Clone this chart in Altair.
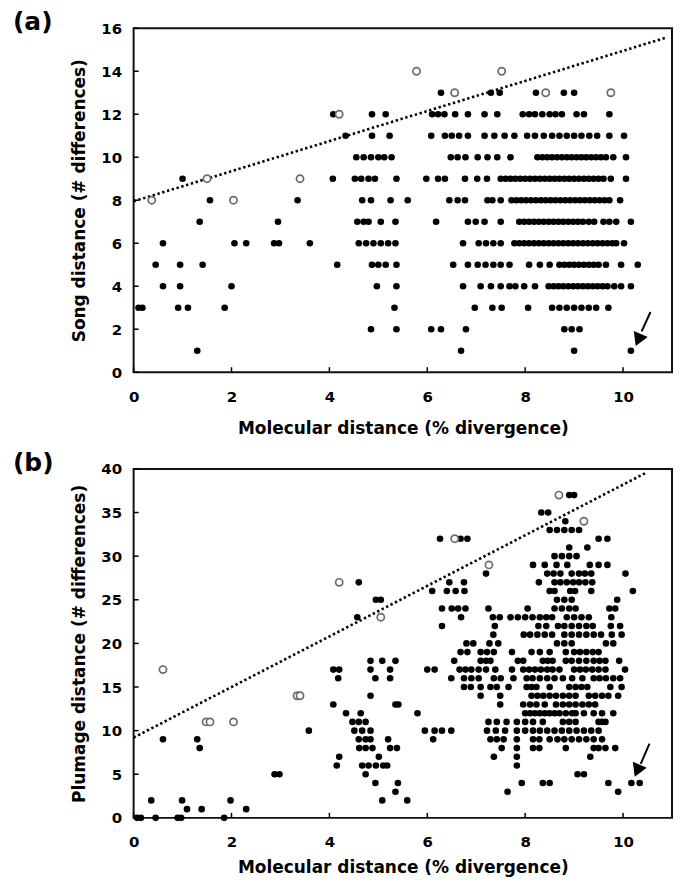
import altair as alt
import pandas as pd

# ---------------- Panel (a): song distance ----------------
a_y13 = [6.28, 7.3, 7.48, 8.22, 8.79, 9.0]
a_y12 = [4.08, 4.87, 5.15, 6.1, 6.22, 6.35, 6.57, 6.83, 7.17, 7.43, 7.95, 8.08, 8.2, 8.35, 8.5, 8.62, 8.75, 9.05, 9.2, 9.72]
a_y11 = [4.33, 4.87, 5.23, 6.08, 6.36, 6.5, 6.65, 6.83, 7.17, 7.37, 7.58, 7.78, 8.04, 8.2, 8.38, 8.55, 8.7, 8.85, 9.0, 9.15, 9.31, 9.47, 9.72, 10.02]
a_y10 = [4.55, 4.7, 4.85, 5.0, 5.12, 5.27, 6.48, 6.62, 6.78, 7.03, 7.23, 7.43, 7.7, 8.25, 8.35, 8.45, 8.55, 8.65, 8.75, 8.85, 8.95, 9.05, 9.15, 9.25, 9.35, 9.45, 9.55, 9.65, 9.8, 10.06]
a_y9 = [1.0, 4.07, 4.52, 4.65, 4.8, 4.93, 5.37, 5.98, 6.22, 6.36, 6.77, 7.02, 7.22, 7.5, 7.6, 7.7, 7.8, 7.9, 8.0, 8.1, 8.2, 8.3, 8.4, 8.5, 8.6, 8.7, 8.8, 8.9, 9.0, 9.1, 9.2, 9.3, 9.4, 9.5, 9.6, 9.75, 10.06]
a_y8 = [1.56, 3.35, 4.67, 4.85, 5.25, 5.6, 6.45, 6.62, 6.77, 7.23, 7.33, 7.5, 7.72, 7.82, 7.92, 8.02, 8.12, 8.22, 8.32, 8.42, 8.52, 8.62, 8.72, 8.82, 8.92, 9.02, 9.12, 9.22, 9.32, 9.42, 9.52, 9.62, 9.72, 9.94]
a_y7 = [1.35, 2.95, 4.57, 4.7, 4.8, 5.05, 5.35, 6.18, 6.83, 6.99, 7.17, 7.5, 7.88, 7.98, 8.08, 8.18, 8.28, 8.38, 8.48, 8.58, 8.68, 8.78, 8.88, 8.98, 9.08, 9.18, 9.3, 9.41, 9.6, 9.72, 9.86, 10.16]
a_y6 = [0.6, 2.06, 2.3, 2.87, 2.97, 3.6, 4.6, 4.75, 4.9, 5.05, 5.2, 5.35, 6.73, 7.05, 7.2, 7.35, 7.5, 7.78, 7.88, 7.98, 8.08, 8.18, 8.28, 8.38, 8.48, 8.58, 8.68, 8.78, 8.88, 8.98, 9.08, 9.18, 9.28, 9.38, 9.48, 9.58, 9.68, 9.78, 9.86, 10.02]
a_y5 = [0.45, 0.95, 1.41, 4.16, 4.87, 5.0, 5.15, 5.37, 6.53, 6.83, 7.03, 7.19, 7.35, 7.5, 7.68, 8.08, 8.3, 8.5, 8.7, 8.8, 8.9, 9.0, 9.1, 9.2, 9.3, 9.4, 9.5, 9.65, 9.96, 10.3]
a_y4 = [0.6, 0.95, 2.0, 4.97, 5.37, 6.73, 7.09, 7.3, 7.5, 7.68, 7.8, 7.98, 8.2, 8.48, 8.58, 8.68, 8.78, 8.88, 8.98, 9.08, 9.18, 9.28, 9.38, 9.48, 9.58, 9.68, 9.82, 9.96, 10.16]
a_y3 = [0.1, 0.18, 0.91, 1.11, 1.86, 5.33, 6.97, 7.33, 7.52, 8.06, 8.55, 8.7, 8.85, 9.0, 9.15, 9.3, 9.45, 9.7]
a_y2 = [4.85, 5.37, 6.08, 6.28, 6.79, 8.8, 8.95, 9.11]
a_y1 = [1.3, 6.69, 9.0, 10.16]

a_open_x = [0.37, 1.5, 2.04, 3.4, 4.2, 5.78, 6.56, 7.52, 8.42, 9.75]
a_open_y = [8, 9, 8, 9, 12, 14, 13, 14, 13, 13]

a_line_x = [0.0, 10.9]
a_line_y = [7.95, 15.58]

a_arrow_x = [10.56, 10.38]
a_arrow_y = [2.8, 1.9]
a_head_x = [10.31]
a_head_y = [1.5]

# ---------------- Panel (b): plumage distance ----------------
b_y37 = [8.9, 9.0]
b_y35 = [8.33, 8.47]
b_y34 = [8.82]
b_y33 = [8.5, 8.65, 8.8, 8.95, 9.1]
b_y32 = [6.26, 6.68, 6.82, 9.5, 9.68]
b_y31 = [8.9, 9.27]
b_y30 = [8.6, 8.75, 8.9, 9.05]
b_y29 = [8.16, 8.4, 8.64, 8.86, 9.32, 9.5, 9.68]
b_y28 = [7.2, 8.45, 8.58, 8.72, 8.95, 9.1, 9.22, 9.35, 10.05]
b_y27 = [4.6, 6.45, 6.75, 8.28, 8.6, 8.72, 8.85, 8.98, 9.1, 9.23, 9.37]
b_y26 = [6.1, 6.4, 6.58, 6.76, 8.5, 8.6, 8.92, 9.02, 9.35, 10.2]
b_y25 = [4.95, 5.05, 8.65, 8.8, 8.95, 9.88]
b_y24 = [6.3, 6.5, 6.63, 6.78, 7.25, 8.05, 8.6, 8.75, 8.9, 9.03, 9.72, 9.84]
b_y23 = [4.57, 6.69, 7.34, 7.48, 7.7, 7.85, 8.0, 8.15, 8.3, 8.43, 8.55, 8.85, 9.0, 9.15, 9.3, 9.76]
b_y22 = [6.3, 7.38, 8.27, 8.43, 8.67, 8.8, 8.95, 9.1, 9.25, 9.38, 9.75, 9.94]
b_y21 = [7.35, 7.97, 8.1, 8.25, 8.4, 8.55, 8.8, 8.95, 9.1, 9.25, 9.4, 9.55, 9.77, 9.97]
b_y20 = [6.8, 6.94, 7.27, 7.45, 8.65, 8.8, 8.95, 9.65, 9.8]
b_y19 = [6.68, 6.82, 7.09, 7.22, 7.36, 7.73, 8.13, 8.3, 8.5, 8.83, 9.0, 9.12, 9.25, 9.38, 9.5]
b_y18 = [4.84, 5.08, 5.35, 6.55, 7.09, 7.2, 7.29, 7.85, 7.96, 8.36, 8.46, 8.56, 8.83, 8.95, 9.1, 9.25, 9.4, 9.52, 9.64, 9.92]
b_y17 = [4.08, 4.2, 4.84, 5.24, 6.0, 6.15, 6.66, 6.78, 6.9, 7.05, 7.2, 7.39, 7.73, 7.96, 8.08, 8.2, 8.32, 8.45, 8.56, 8.7, 9.0, 9.12, 9.24, 9.37, 9.5, 9.64, 10.04]
b_y16 = [4.18, 4.94, 5.24, 6.49, 6.75, 6.9, 7.05, 7.36, 7.5, 7.76, 8.03, 8.15, 8.3, 8.45, 8.6, 8.77, 8.96, 9.17, 9.4, 9.52, 9.65, 9.8, 9.94]
b_y15 = [6.75, 6.89, 7.09, 7.29, 7.42, 7.66, 8.03, 8.13, 8.23, 8.5, 8.9, 9.03, 9.15, 9.27, 9.74, 9.97]
b_y14 = [4.84, 7.09, 7.49, 8.13, 8.25, 8.37, 8.5, 8.63, 8.77, 8.9, 9.03, 9.3, 9.43, 9.57, 9.7, 9.9]
b_y13 = [4.08, 5.35, 5.41, 7.49, 7.96, 8.1, 8.23, 8.4, 8.63, 8.77, 8.9, 9.03, 9.17, 9.3, 9.43]
b_y12 = [4.34, 4.64, 5.8, 8.0, 8.1, 8.2, 8.3, 8.4, 8.5, 8.6, 8.7, 8.83, 8.96, 9.03, 9.2, 9.4, 9.57, 9.8]
b_y11 = [4.47, 4.6, 4.74, 7.25, 7.42, 7.62, 7.83, 8.0, 8.16, 8.36, 8.77, 8.9, 9.03, 9.5, 9.57, 9.64]
b_y10 = [3.58, 4.51, 4.67, 4.84, 5.95, 6.15, 6.3, 6.49, 7.22, 7.4, 7.59, 7.83, 8.0, 8.16, 8.3, 8.45, 8.6, 8.75, 8.9, 9.05, 9.2, 9.35, 9.5]
b_y9 = [0.6, 1.3, 4.6, 4.74, 4.84, 5.2, 6.12, 7.29, 7.42, 7.56, 7.83, 8.16, 8.29, 8.5, 8.66, 8.8, 8.95, 9.1, 9.25, 9.4, 9.57]
b_y8 = [1.35, 4.61, 4.74, 4.88, 5.24, 5.38, 7.52, 7.83, 8.16, 8.29, 8.83, 9.4, 9.5, 9.64, 9.84]
b_y7 = [4.2, 5.01, 7.36, 7.83, 9.33]
b_y6 = [4.15, 4.67, 4.8, 4.95, 5.1, 5.18, 7.83]
b_y5 = [2.88, 2.98, 4.74, 9.07, 9.2]
b_y4 = [4.94, 5.4, 7.93, 8.36, 8.5, 9.7, 10.17, 10.34]
b_y3 = [5.35, 7.64, 9.9]
b_y2 = [0.36, 0.99, 1.98, 5.08, 5.59]
b_y1 = [1.09, 1.39, 2.3]
b_y0 = [0.07, 0.15, 0.45, 0.9, 0.97, 1.85]

b_open_x = [0.6, 1.48, 1.56, 2.04, 3.34, 3.4, 4.2, 5.05, 6.56, 7.26, 8.69, 9.2]
b_open_y = [17, 11, 11, 11, 14, 14, 27, 23, 32, 29, 37, 34]

b_line_x = [0.0, 10.45]
b_line_y = [9.2, 39.5]

b_arrow_x = [10.54, 10.36]
b_arrow_y = [8.5, 6.2]
b_head_x = [10.29]
b_head_y = [5.4]

# ---------------- Axes ----------------
x_ticks = [0, 2, 4, 6, 8, 10]
a_y_ticks = [0, 2, 4, 6, 8, 10, 12, 14, 16]
b_y_ticks = [0, 5, 10, 15, 20, 25, 30, 35, 40]
x_title = "Molecular distance (% divergence)"
a_y_title = "Song distance (# differences)"
b_y_title = "Plumage distance (# differences)"

FONT = "DejaVu Sans"
W = 540


def rows_to_df(rows):
    recs = []
    for yv, xs in rows:
        for xv in xs:
            recs.append({"x": xv, "y": yv})
    return pd.DataFrame(recs)


def panel(rows, ox, oy, lx, ly, arx, ary, hx, hy, ydom, yticks, ytitle, label, height, xtpad):
    filled = rows_to_df(rows)
    opened = pd.DataFrame({"x": ox, "y": oy})
    line = pd.DataFrame({"x": lx, "y": ly})
    arrow = pd.DataFrame({"x": [arx[0]], "y": [ary[0]], "x2": [arx[1]], "y2": [ary[1]]})
    head = pd.DataFrame({"x": hx, "y": hy})

    xs = alt.Scale(domain=[0, 11], nice=False, zero=False)
    ys = alt.Scale(domain=ydom, nice=False, zero=False)
    xax = alt.Axis(values=x_ticks, title=x_title, grid=False, domain=False, ticks=False,
                   tickSize=0, labelPadding=17, titlePadding=xtpad, format="d", labelFlush=False,
                   labelFont=FONT, labelFontSize=15, labelFontWeight="bold", labelColor="black",
                   titleFont=FONT, titleFontSize=17, titleFontWeight="bold", titleColor="black")
    yax = alt.Axis(values=yticks, title=ytitle, grid=False, domain=False, ticks=False,
                   tickSize=0, labelPadding=12, titlePadding=12, format="d", labelFlush=False,
                   labelFont=FONT, labelFontSize=15, labelFontWeight="bold", labelColor="black",
                   titleFont=FONT, titleFontSize=17, titleFontWeight="bold", titleColor="black")
    X = alt.X("x:Q", scale=xs, axis=xax)
    Y = alt.Y("y:Q", scale=ys, axis=yax)

    pts = alt.Chart(filled).mark_circle(size=44, color="black", opacity=1).encode(x=X, y=Y)
    opn = alt.Chart(opened).mark_point(shape="circle", size=52, filled=True, fill="white",
                                        stroke="#6b6b6b", strokeWidth=1.7, opacity=1).encode(x=X, y=Y)
    ln = alt.Chart(line).mark_line(color="black", strokeWidth=2.6, strokeDash=[2.4, 2.6]).encode(x=X, y=Y)
    ar = alt.Chart(arrow).mark_rule(color="black", strokeWidth=2).encode(x=X, y=Y, x2="x2:Q", y2="y2:Q")
    hd = alt.Chart(head).mark_point(shape="triangle-up", size=230, filled=True, color="black",
                                     opacity=1, angle=203).encode(x=X, y=Y)
    xt = alt.Chart(pd.DataFrame({"x": x_ticks})).mark_rule(color="black", strokeWidth=1.5).encode(
        x=X, y=alt.value(height), y2=alt.value(height - 5))
    yt = alt.Chart(pd.DataFrame({"y": yticks})).mark_rule(color="black", strokeWidth=1.5).encode(
        y=Y, x=alt.value(0), x2=alt.value(5))
    lab = alt.Chart(pd.DataFrame({"t": [label]})).mark_text(
        font=FONT, fontSize=25, fontWeight="bold", align="left", baseline="top", color="black"
    ).encode(text="t:N", x=alt.value(-121), y=alt.value(-18))
    return alt.layer(ln, pts, opn, ar, hd, xt, yt, lab).properties(width=W, height=height)


rows_a = [(13, a_y13), (12, a_y12), (11, a_y11), (10, a_y10), (9, a_y9), (8, a_y8), (7, a_y7),
          (6, a_y6), (5, a_y5), (4, a_y4), (3, a_y3), (2, a_y2), (1, a_y1)]
rows_b = [(37, b_y37), (35, b_y35), (34, b_y34), (33, b_y33), (32, b_y32), (31, b_y31), (30, b_y30),
          (29, b_y29), (28, b_y28), (27, b_y27), (26, b_y26), (25, b_y25), (24, b_y24), (23, b_y23),
          (22, b_y22), (21, b_y21), (20, b_y20), (19, b_y19), (18, b_y18), (17, b_y17), (16, b_y16),
          (15, b_y15), (14, b_y14), (13, b_y13), (12, b_y12), (11, b_y11), (10, b_y10), (9, b_y9),
          (8, b_y8), (7, b_y7), (6, b_y6), (5, b_y5), (4, b_y4), (3, b_y3), (2, b_y2), (1, b_y1),
          (0, b_y0)]

pa = panel(rows_a, a_open_x, a_open_y, a_line_x, a_line_y, a_arrow_x, a_arrow_y, a_head_x, a_head_y,
           [0, 16], a_y_ticks, a_y_title, "(a)", 345, 16)
pb = panel(rows_b, b_open_x, b_open_y, b_line_x, b_line_y, b_arrow_x, b_arrow_y, b_head_x, b_head_y,
           [0, 40], b_y_ticks, b_y_title, "(b)", 350, 10)

chart = alt.vconcat(pa, pb, spacing=13).configure(
    padding={"left": 4, "top": 0, "right": 0, "bottom": 0}, background="white"
).configure_view(
    stroke="#111", strokeWidth=2
)

chart.save("out.html", embed_options={"renderer": "svg", "actions": False})
